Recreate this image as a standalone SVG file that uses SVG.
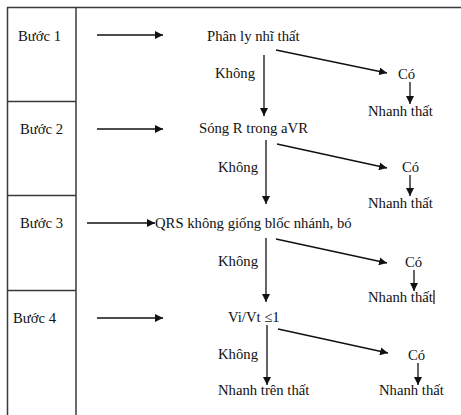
<svg xmlns="http://www.w3.org/2000/svg" width="461" height="415" viewBox="0 0 461 415">
  <style>
    text { font-family: "Liberation Serif", "Times New Roman", serif; font-size: 14.7px; fill: #111; }
    .frame { stroke: #3a3a3a; stroke-width: 1.5; fill: none; }
    .arrow { stroke: #111; stroke-width: 1.3; fill: none; marker-end: url(#head); }
  </style>
  <defs>
    <marker id="head" viewBox="0 0 10 10" refX="10" refY="5" markerWidth="8" markerHeight="8" markerUnits="userSpaceOnUse" orient="auto">
      <path d="M0,0 L10,5 L0,10 z" fill="#111"/>
    </marker>
  </defs>

  <rect width="461" height="415" fill="#fff"/>

  <!-- table frame with the step column -->
  <g id="frame">
    <line class="frame" x1="7" y1="7.5" x2="461" y2="7.5"/>
    <line class="frame" x1="7.5" y1="7" x2="7.5" y2="415"/>
    <line class="frame" x1="76" y1="7" x2="76" y2="415"/>
    <line class="frame" x1="7" y1="101.5" x2="76" y2="101.5"/>
    <line class="frame" x1="7" y1="195.5" x2="76" y2="195.5"/>
    <line class="frame" x1="7" y1="290.5" x2="76" y2="290.5"/>
  </g>

  <g id="step1"><text x="18" y="41">Bước 1</text></g>
  <g id="step2"><text x="20" y="134">Bước 2</text></g>
  <g id="step3"><text x="20" y="228">Bước 3</text></g>
  <g id="step4"><text x="13" y="323">Bước 4</text></g>

  <g id="q1"><text x="207" y="41">Phân ly nhĩ thất</text></g>
  <g id="q2"><text x="199" y="133">Sóng R trong aVR</text></g>
  <g id="q3"><text x="155" y="228">QRS không giống blốc nhánh, bó</text></g>
  <g id="q4"><text x="228" y="322">Vi/Vt ≤1</text></g>

  <g id="no1"><text x="215" y="78">Không</text></g>
  <g id="no2"><text x="218" y="172">Không</text></g>
  <g id="no3"><text x="218" y="266">Không</text></g>
  <g id="no4"><text x="218" y="359">Không</text></g>

  <g id="yes1"><text x="398" y="79">Có</text></g>
  <g id="yes2"><text x="402" y="172">Có</text></g>
  <g id="yes3"><text x="405" y="267">Có</text></g>
  <g id="yes4"><text x="408" y="360">Có</text></g>

  <g id="vt1"><text x="368" y="116">Nhanh thất</text></g>
  <g id="vt2"><text x="368" y="208">Nhanh thất</text></g>
  <g id="vt3"><text x="368" y="302">Nhanh thất</text><line x1="434" y1="290" x2="434" y2="304" stroke="#111" stroke-width="1.2"/></g>
  <g id="vt4"><text x="379" y="395">Nhanh thất</text></g>
  <g id="svt"><text x="218" y="395">Nhanh trên thất</text></g>

  <g id="connectors">
    <!-- step arrows -->
    <line class="arrow" x1="97" y1="35" x2="163" y2="35"/>
    <line class="arrow" x1="97" y1="129" x2="163" y2="129"/>
    <line class="arrow" x1="87" y1="223" x2="155" y2="223"/>
    <line class="arrow" x1="97" y1="318" x2="163" y2="318"/>
    <!-- "no" branches -->
    <line class="arrow" x1="264" y1="55" x2="264" y2="116"/>
    <line class="arrow" x1="266" y1="140" x2="266" y2="204"/>
    <line class="arrow" x1="266" y1="238" x2="266" y2="302"/>
    <line class="arrow" x1="267" y1="325" x2="267" y2="385"/>
    <!-- "yes" branches -->
    <line class="arrow" x1="276" y1="50" x2="387" y2="73"/>
    <line class="arrow" x1="277" y1="144" x2="387" y2="168"/>
    <line class="arrow" x1="276" y1="239" x2="387" y2="263"/>
    <line class="arrow" x1="278" y1="329" x2="388" y2="353"/>
    <!-- yes to ventricular tachycardia -->
    <line class="arrow" x1="410" y1="82" x2="410" y2="104"/>
    <line class="arrow" x1="410" y1="175" x2="410" y2="196"/>
    <line class="arrow" x1="414" y1="270" x2="414" y2="291"/>
    <line class="arrow" x1="418" y1="363" x2="418" y2="385"/>
  </g>
</svg>
